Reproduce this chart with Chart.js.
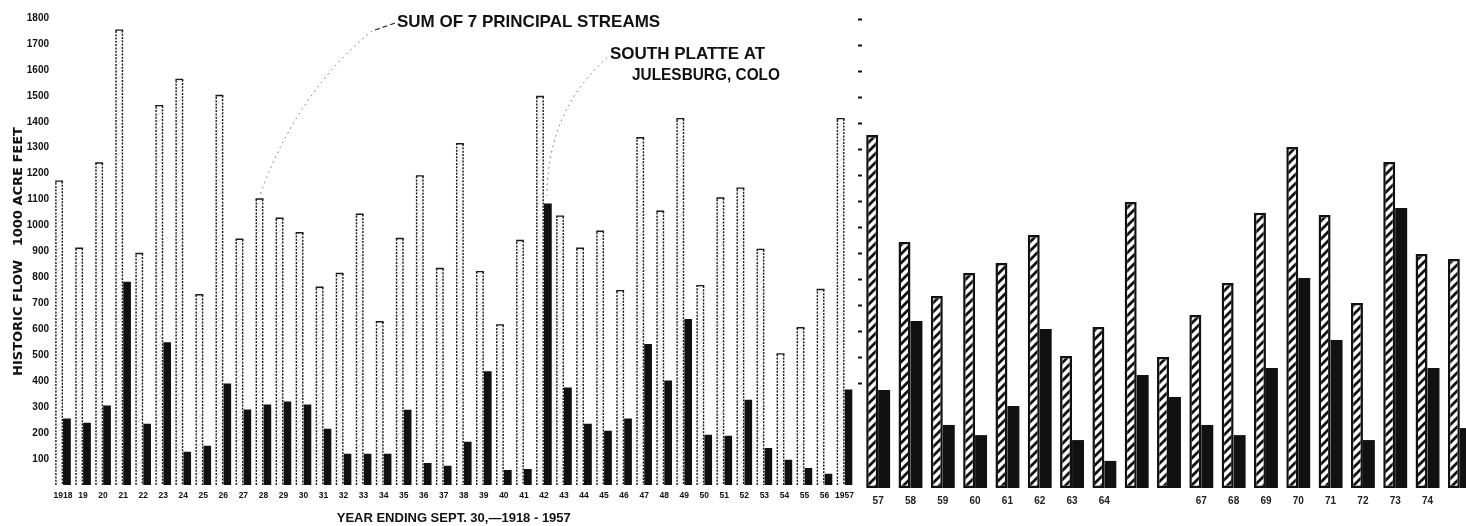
<!DOCTYPE html>
<html>
<head>
<meta charset="utf-8">
<script src="https://cdn.jsdelivr.net/npm/chart.js@4.4.0/dist/chart.umd.min.js"></script>
<style>
    html, body { margin: 0; padding: 0; background: #fff; overflow: hidden; width: 1466px; height: 526px; }
    #painelAntes { position: absolute; left: 0; top: 0; }
    #painelDepois { position: absolute; left: 840px; top: 0; }
</style>
</head>
<body>
<canvas id="painelAntes" width="860" height="526"></canvas>
<canvas id="painelDepois" width="640" height="526"></canvas>
<script>
// Anos do primeiro painel (1918 - 1957)
const anosAntes = ['1918', '19', '20', '21', '22', '23', '24', '25', '26', '27',
    '28', '29', '30', '31', '32', '33', '34', '35', '36', '37',
    '38', '39', '40', '41', '42', '43', '44', '45', '46', '47',
    '48', '49', '50', '51', '52', '53', '54', '55', '56', '1957'];

// Soma dos 7 rios principais (1000 acre feet)
const somaAntes = [1174, 915, 1244, 1756, 895, 1465, 1566, 736, 1504, 950,
    1105, 1031, 975, 765, 818, 1046, 632, 953, 1194, 837,
    1318, 825, 620, 945, 1500, 1039, 915, 981, 752, 1341,
    1058, 1415, 771, 1109, 1147, 911, 508, 609, 756, 1415];

// South Platte em Julesburg
const platteAntes = [256, 240, 306, 783, 236, 550, 128, 151, 391, 291,
    310, 322, 310, 217, 120, 120, 120, 290, 85, 74,
    167, 438, 58, 62, 1085, 376, 236, 209, 256, 543,
    403, 640, 194, 190, 329, 143, 97, 66, 43, 368];

// Segundo painel (1957 - 1975); 65, 66 e 75 sem rótulo no original
const anosDepois = ['57', '58', '59', '60', '61', '62', '63', '64', '', '',
    '67', '68', '69', '70', '71', '72', '73', '74', ''];
const somaDepois = [1355, 944, 737, 825, 864, 971, 507, 618, 1098, 503,
    664, 787, 1056, 1309, 1048, 710, 1251, 898, 879];
const platteDepois = [376, 641, 242, 203, 315, 610, 184, 104, 434, 349,
    242, 203, 461, 806, 568, 184, 1075, 461, 230];

// Marcas do eixo vertical
const ticksY = [100, 200, 300, 400, 500, 600, 700, 800, 900,
    1000, 1100, 1200, 1300, 1400, 1500, 1600, 1700, 1800];

const tinta = '#111';

// Função para criar um padrão de hachura diagonal
function criarHachura(tamanho, cor, espessura) {
    const c = document.createElement('canvas');
    c.width = tamanho;
    c.height = tamanho;
    const g = c.getContext('2d');
    g.fillStyle = '#fff';
    g.fillRect(0, 0, tamanho, tamanho);
    g.strokeStyle = cor;
    g.lineWidth = espessura;
    g.beginPath();
    g.moveTo(-2, 2); g.lineTo(2, -2);
    g.moveTo(0, tamanho); g.lineTo(tamanho, 0);
    g.moveTo(tamanho - 2, tamanho + 2); g.lineTo(tamanho + 2, tamanho - 2);
    g.stroke();
    return g.createPattern(c, 'repeat');
}

// Contorno pontilhado das barras "soma" no primeiro painel
const contornoPontilhado = {
    id: 'contornoPontilhado',
    afterDatasetsDraw(chart) {
        const ctx = chart.ctx;
        const meta = chart.getDatasetMeta(0);
        ctx.save();
        ctx.strokeStyle = '#1a1a1a';
        ctx.lineWidth = 1.4;
        meta.data.forEach(function(barra) {
            const p = barra.getProps(['x', 'y', 'base', 'width'], true);
            const esq = p.x - p.width / 2 + 0.7;
            const dir = p.x + p.width / 2 - 0.7;
            ctx.setLineDash([2, 1.3]);
            ctx.beginPath();
            ctx.moveTo(esq, p.base);
            ctx.lineTo(esq, p.y + 1);
            ctx.moveTo(dir, p.y + 1);
            ctx.lineTo(dir, p.base);
            ctx.stroke();
            ctx.setLineDash([]);
            ctx.beginPath();
            ctx.moveTo(esq, p.y + 2);
            ctx.lineTo(esq, p.y + 0.7);
            ctx.lineTo(dir, p.y + 0.7);
            ctx.lineTo(dir, p.y + 2);
            ctx.stroke();
        });
        ctx.restore();
    }
};

// Legendas escritas sobre o gráfico, com linhas de chamada
const chamadas = {
    id: 'chamadas',
    afterDraw(chart) {
        const ctx = chart.ctx;
        const soma = chart.getDatasetMeta(0).data[anosAntes.indexOf('28')];
        const platte = chart.getDatasetMeta(1).data[anosAntes.indexOf('42')];
        ctx.save();
        ctx.fillStyle = tinta;
        ctx.textBaseline = 'middle';
        ctx.font = 'bold 17px "Liberation Sans", Arial, sans-serif';
        ctx.fillText('SUM OF 7 PRINCIPAL STREAMS', 397, 22, 266);
        ctx.fillText('SOUTH PLATTE AT', 610, 54, 160);
        ctx.fillText('JULESBURG, COLO', 632, 75, 148);

        ctx.strokeStyle = '#333';
        ctx.lineWidth = 1.2;
        ctx.setLineDash([5, 3]);
        ctx.beginPath();
        ctx.moveTo(375, 30);
        ctx.lineTo(395, 23);
        ctx.stroke();

        ctx.strokeStyle = '#666';
        ctx.lineWidth = 1;
        ctx.setLineDash([1.5, 4]);
        ctx.beginPath();
        ctx.moveTo(372, 31);
        ctx.quadraticCurveTo(297, 92, soma.x, soma.y - 2);
        ctx.stroke();
        ctx.beginPath();
        ctx.moveTo(607, 58);
        ctx.quadraticCurveTo(548, 110, platte.x - 1, platte.y - 8);
        ctx.stroke();
        ctx.restore();
    }
};

// Gráfico 1918 - 1957
function initPainelAntes() {
    const ctx = document.getElementById('painelAntes').getContext('2d');
    new Chart(ctx, {
        type: 'bar',
        data: {
            labels: anosAntes,
            datasets: [{
                label: 'Sum of 7 principal streams',
                data: somaAntes,
                backgroundColor: criarHachura(7, '#d6d6d6', 0.8),
                borderWidth: 0,
                categoryPercentage: 0.78,
                barPercentage: 1
            }, {
                label: 'South Platte at Julesburg, Colo',
                data: platteAntes,
                backgroundColor: tinta,
                borderWidth: 0,
                categoryPercentage: 0.78,
                barPercentage: 1
            }]
        },
        options: {
            responsive: false,
            animation: false,
            layout: { padding: { top: 18, right: 3, bottom: 0, left: 0 } },
            plugins: { legend: { display: false }, tooltip: { enabled: false } },
            scales: {
                x: {
                    grid: { display: false, drawTicks: false },
                    border: { display: false },
                    ticks: {
                        autoSkip: false,
                        maxRotation: 0,
                        padding: 6,
                        color: tinta,
                        font: { family: '"Liberation Sans", Arial, sans-serif', size: 8.5, weight: 'bold' }
                    },
                    title: {
                        display: true,
                        text: 'YEAR ENDING SEPT. 30,\u20141918 - 1957',
                        color: tinta,
                        padding: { top: 3, bottom: 0 },
                        font: { family: '"Liberation Sans", Arial, sans-serif', size: 13, weight: 'bold' }
                    },
                    afterFit: function(scale) { scale.height = 41; }
                },
                y: {
                    min: 0,
                    max: 1800,
                    afterBuildTicks: function(scale) {
                        scale.ticks = ticksY.map(function(v) { return { value: v }; });
                    },
                    grid: { display: false, drawTicks: false },
                    border: { display: false },
                    ticks: {
                        padding: 4,
                        color: tinta,
                        callback: function(valor) { return String(valor); },
                        font: { family: '"Liberation Sans", Arial, sans-serif', size: 10, weight: 'bold' }
                    },
                    title: {
                        display: true,
                        text: 'HISTORIC FLOW   1000 ACRE FEET',
                        color: tinta,
                        padding: { top: 11, bottom: 0 },
                        font: { family: '"DejaVu Sans", sans-serif', size: 13, weight: 'bold' }
                    },
                    afterFit: function(scale) { scale.width = 53; }
                }
            }
        },
        plugins: [contornoPontilhado, chamadas]
    });
}

// Gráfico 1957 - 1975
function initPainelDepois() {
    const ctx = document.getElementById('painelDepois').getContext('2d');
    new Chart(ctx, {
        type: 'bar',
        data: {
            labels: anosDepois,
            datasets: [{
                label: 'Sum of 7 principal streams',
                data: somaDepois,
                backgroundColor: criarHachura(9, tinta, 2.8),
                borderColor: tinta,
                borderWidth: 2.5,
                borderSkipped: false,
                categoryPercentage: 0.74,
                barPercentage: 1
            }, {
                label: 'South Platte at Julesburg, Colo',
                data: platteDepois,
                backgroundColor: tinta,
                borderWidth: 0,
                categoryPercentage: 0.74,
                barPercentage: 1
            }]
        },
        options: {
            responsive: false,
            animation: false,
            layout: { padding: { top: 19, right: 4, bottom: 0, left: 0 } },
            plugins: { legend: { display: false }, tooltip: { enabled: false } },
            scales: {
                x: {
                    grid: { display: false, drawTicks: false },
                    border: { display: false },
                    ticks: {
                        autoSkip: false,
                        maxRotation: 0,
                        padding: 7,
                        color: '#222',
                        font: { family: '"Liberation Sans", Arial, sans-serif', size: 10, weight: 'bold' }
                    },
                    afterFit: function(scale) { scale.height = 38; }
                },
                y: {
                    min: 0,
                    max: 1800,
                    afterBuildTicks: function(scale) {
                        scale.ticks = ticksY.map(function(v) { return { value: v }; });
                    },
                    border: { display: false },
                    grid: {
                        drawOnChartArea: false,
                        drawTicks: true,
                        tickLength: 4,
                        tickWidth: 2,
                        tickColor: function(c) { return c.tick && c.tick.value >= 400 ? tinta : 'rgba(0,0,0,0)'; }
                    },
                    ticks: { display: false },
                    afterFit: function(scale) { scale.width = 22; }
                }
            }
        }
    });
}

document.addEventListener('DOMContentLoaded', function() {
    initPainelAntes();
    initPainelDepois();
});
</script>
</body>
</html>
